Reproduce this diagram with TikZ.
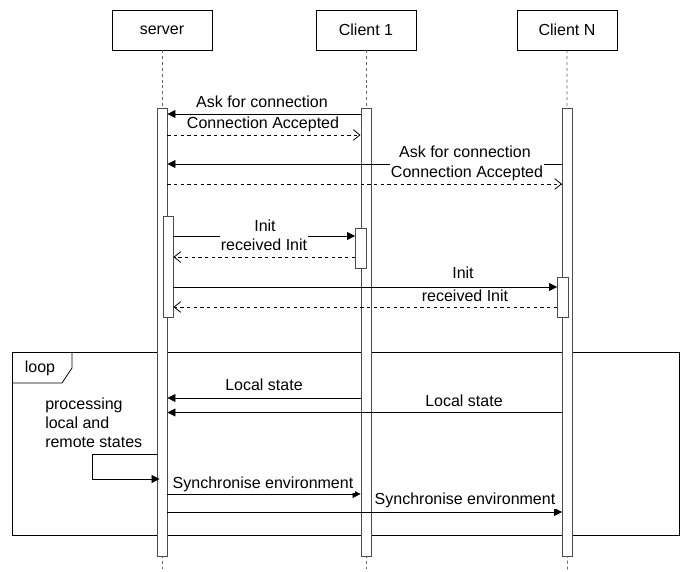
\documentclass[tikz,border=0pt]{standalone}
\usepackage{fontspec}
\setmainfont{Liberation Sans}
\usetikzlibrary{arrows.meta,fit,calc}
\begin{document}
\begin{tikzpicture}[x=0.75pt,y=-0.75pt,
  font=\fontsize{12}{14.4}\selectfont,
  actor/.style={draw=black,fill=white,minimum width=75pt,minimum height=30pt,inner sep=0pt},
  lifeline/.style={draw=gray!80!black,dash pattern=on 2.2pt off 2.2pt,line width=0.6pt},
  bar/.style={draw=gray!60!black,fill=white,inner sep=0pt,line width=0.7pt},
  msg/.style={draw=black,line width=0.6pt,-{Triangle[length=6pt,width=6pt]}},
  ret/.style={draw=black,line width=0.6pt,dash pattern=on 2.5pt off 2.5pt,-{Straight Barb[length=5pt,width=8pt]}},
  lbl/.style={fill=white,inner sep=1pt},
  frame/.style={draw=black,line width=0.6pt}]
\useasboundingbox (0,0) rectangle (683,572);
% actors
\node[actor] (s) at (162,30) {server};
\node[actor] (c1) at (366,30) {Client 1};
\node[actor] (cN) at (567,30) {Client N};
\coordinate (sEnd) at (162,572);
\coordinate (c1End) at (366,572);
\coordinate (cNEnd) at (567.5,572);
\draw[lifeline] (s.south) -- (sEnd);
\draw[lifeline] (c1.south) -- (c1End);
\draw[lifeline] (cN.south) -- (cNEnd);
% loop frame
\node[frame,fit={(12,352) (679,535)},inner sep=0pt] (loopbox) {};
\coordinate (tabA) at (72,352);
\coordinate (tabB) at (72,368);
\coordinate (tabC) at (62,383);
\coordinate (tabD) at (12,383);
\draw[frame] (tabA) -- (tabB) -- (tabC) -- (tabD);
\node (looplbl) at (40,368) {loop};
% activation bars
\node[bar,fit={(157,108) (167,556)}] (sbar) {};
\node[bar,fit={(361,108) (371,556)}] (c1bar) {};
\node[bar,fit={(562.5,108) (572.5,556)}] (cNbar) {};
\node[bar,fit={(163,216) (173,317)}] (sbar2) {};
\node[bar,fit={(355.5,228) (366,268)}] (c1bar2) {};
\node[bar,fit={(557.5,277) (568,317)}] (cNbar2) {};
% connection
\draw[msg] (c1bar.west |- 0,114) -- (sbar.east |- 0,114);
\node[lbl] (l1) at (262,102) {Ask for connection};
\draw[ret] (sbar.east |- 0,135) -- (c1bar.west |- 0,135);
\node[lbl] (l2) at (263,124) {Connection Accepted};
\draw[msg] (cNbar.west |- 0,164) -- (sbar.east |- 0,164);
\node[lbl] (l3) at (465,152) {Ask for connection};
\draw[ret] (sbar.east |- 0,184) -- (cNbar.west |- 0,184);
\node[lbl] (l4) at (467,173) {Connection Accepted};
% init
\draw[msg] (sbar2.east |- 0,236) -- (c1bar2.west |- 0,236);
\node[lbl] (l5) at (265,226) {Init};
\draw[ret] (c1bar2.west |- 0,257) -- (sbar2.east |- 0,257);
\node[lbl,inner ysep=3pt] (l6) at (264,245) {received Init};
\draw[msg] (sbar2.east |- 0,287) -- (cNbar2.west |- 0,287);
\node[lbl] (l7) at (463,273) {Init};
\draw[ret] (cNbar2.west |- 0,307) -- (sbar2.east |- 0,307);
\node[lbl] (l8) at (465,296) {received Init};
% loop contents
\draw[msg] (c1bar.west |- 0,398) -- (sbar.east |- 0,398);
\node[lbl] (l9) at (264,385) {Local state};
\draw[msg] (cNbar.west |- 0,412.5) -- (sbar.east |- 0,412.5);
\node[lbl] (l10) at (464,401) {Local state};
\node[align=left,anchor=west,inner sep=0pt] (proc) at (45,423) {processing\\local and\\remote states};
\coordinate (selfA) at (92,454);
\coordinate (selfB) at (92,479);
\draw[msg,-] (sbar.west |- 0,454) -- (selfA) -- (selfB);
\draw[msg] (selfB) -- ($(sbar.west |- 0,479)+(3,0)$);
\draw[msg] (sbar.east |- 0,494) -- (c1bar.west |- 0,494);
\node[lbl] (l11) at (263,484) {Synchronise environment};
\draw[msg] (sbar.east |- 0,512) -- (cNbar.west |- 0,512);
\node[lbl] (l12) at (465,500) {Synchronise environment};
\end{tikzpicture}
\end{document}
